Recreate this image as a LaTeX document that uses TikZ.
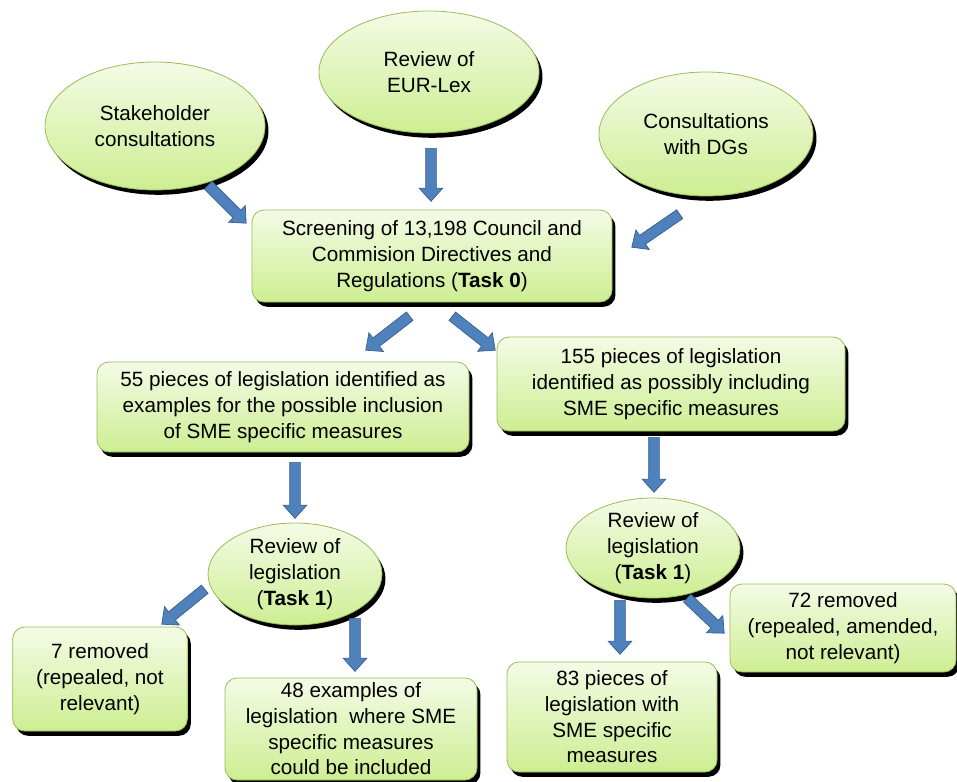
\documentclass[tikz,border=0pt]{standalone}
\usepackage{fontspec}
\setmainfont{Liberation Sans}
\usetikzlibrary{shapes.geometric,shapes.arrows,shadows,calc}
\definecolor{gtop}{HTML}{F4FBE6}
\definecolor{gbot}{HTML}{CDEE92}
\definecolor{gline}{HTML}{9BBB59}
\definecolor{afill}{HTML}{4F81BD}
\definecolor{aline}{HTML}{385D8A}
\tikzset{
  base/.style={draw=gline, line width=0.6pt, top color=gtop, bottom color=gbot,
    drop shadow={shadow xshift=2.6pt, shadow yshift=-3.6pt, fill=black, opacity=1},
    align=center, inner sep=0pt, font=\fontsize{15.5}{19.3}\selectfont},
  box/.style={base, rectangle, rounded corners=9pt},
  ell/.style={base, ellipse},
  barrow/.style={single arrow, draw=aline, fill=afill, line width=0.5pt,
    inner xsep=0pt, inner ysep=3.75pt, single arrow head extend=4.9pt,
    single arrow tip angle=84, anchor=tail}
}
\newcommand\blockarrow[2]{%
  \path let \p1=(#1), \p2=(#2), \n1={atan2(\y2-\y1,\x2-\x1)}, \n2={veclen(\x2-\x1,\y2-\y1)} in
    node[barrow, minimum height=\n2, rotate=\n1] at (\p1) {};}
\begin{document}
\begin{tikzpicture}[x=0.75pt, y=-0.75pt]
\useasboundingbox (0,0) rectangle (957,782);
% ellipses
\node[ell, minimum width=165pt, minimum height=96pt] (stake) at (155,126) {Stakeholder\\consultations};
\node[ell, minimum width=165pt, minimum height=91.5pt] (eur) at (429,72) {Review of\\EUR-Lex};
\node[ell, minimum width=160.5pt, minimum height=93pt] (dgs) at (706,134) {Consultations\\with DGs};
% boxes
\node[box, minimum width=270pt, minimum height=69pt] (screen) at (432,256)
  {Screening of 13,198 Council and\\Commision Directives and\\Regulations (\textbf{Task 0})};
\node[box, minimum width=279pt, minimum height=67.5pt] (b55) at (283,407)
  {55 pieces of legislation identified as\\examples for the possible inclusion\\of SME specific measures};
\node[box, minimum width=261pt, minimum height=70.5pt] (b155) at (671,384)
  {155 pieces of legislation\\identified as possibly including\\SME specific measures};
\node[ell, minimum width=130.5pt, minimum height=76.5pt] (revL) at (295,574) {Review of\\legislation\\(\textbf{Task 1})};
\node[ell, minimum width=130.5pt, minimum height=73.5pt] (revR) at (653,548) {Review of\\legislation\\(\textbf{Task 1})};
\node[box, minimum width=131pt, minimum height=78pt] (b7) at (100,679) {7 removed\\(repealed, not\\relevant)};
\node[box, minimum width=189pt, minimum height=76.5pt] (b48) at (351,729)
  {48 examples of\\legislation\ \ where SME\\specific measures\\could be included};
\node[box, minimum width=157.5pt, minimum height=82.5pt] (b83) at (612,717)
  {83 pieces of\\legislation with\\SME specific\\measures};
\node[box, minimum width=169.5pt, minimum height=66pt] (b72) at (843,628)
  {72 removed\\(repealed, amended,\\not relevant)};
% arrow end points
\coordinate (a1s) at (208,185);  \coordinate (a1e) at (246,223);
\coordinate (a2s) at (431,148);  \coordinate (a2e) at (431,201);
\coordinate (a3s) at (680,214);  \coordinate (a3e) at (632,247);
\coordinate (a4s) at (410,316);  \coordinate (a4e) at (366,350);
\coordinate (a5s) at (452,316);  \coordinate (a5e) at (495,350);
\coordinate (a6s) at (295,462);  \coordinate (a6e) at (295,518);
\coordinate (a7s) at (205,589);  \coordinate (a7e) at (162,624);
\coordinate (a8s) at (355,618);  \coordinate (a8e) at (355,671);
\coordinate (a9s) at (654,437);  \coordinate (a9e) at (654,492);
\coordinate (a10s) at (620,600); \coordinate (a10e) at (620,654);
\coordinate (a11s) at (687,598); \coordinate (a11e) at (724,633);
\blockarrow{a1s}{a1e}
\blockarrow{a2s}{a2e}
\blockarrow{a3s}{a3e}
\blockarrow{a4s}{a4e}
\blockarrow{a5s}{a5e}
\blockarrow{a6s}{a6e}
\blockarrow{a7s}{a7e}
\blockarrow{a8s}{a8e}
\blockarrow{a9s}{a9e}
\blockarrow{a10s}{a10e}
\blockarrow{a11s}{a11e}
\end{tikzpicture}
\end{document}
